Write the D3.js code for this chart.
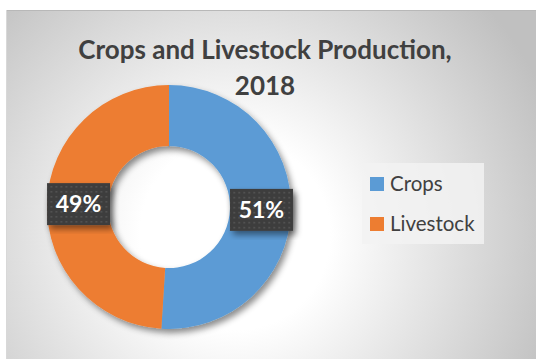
<!DOCTYPE html>
<html>
<head>
<meta charset="utf-8">
<script src="https://cdn.jsdelivr.net/npm/d3@7"></script>
<style>
  html, body { margin: 0; padding: 0; background: #fff; }
  svg { display: block; }
</style>
</head>
<body>
<div id="chart"></div>
<script>
// data
const categories = ["Crops", "Livestock"];
const shares = [51, 49];
const colors = ["#5B9BD5", "#ED7D31"];
const titleLines = ["Crops and Livestock Production,", "2018"];

const W = 536, H = 359;

const svg = d3.select("#chart")
  .append("svg")
  .attr("width", W)
  .attr("height", H);

const defs = svg.append("defs");

// background gradient of the chart area
const grad = defs.append("radialGradient")
  .attr("id", "bg")
  .attr("gradientUnits", "userSpaceOnUse")
  .attr("cx", 235).attr("cy", 235).attr("r", 340);
grad.append("stop").attr("offset", "0%").attr("stop-color", "#ffffff");
grad.append("stop").attr("offset", "28%").attr("stop-color", "#ffffff");
grad.append("stop").attr("offset", "100%").attr("stop-color", "#c0c0c0");

// shadows
const shadow = defs.append("filter").attr("id", "shadow")
  .attr("x", "-20%").attr("y", "-20%").attr("width", "140%").attr("height", "140%");
shadow.append("feDropShadow")
  .attr("dx", 3).attr("dy", 4).attr("stdDeviation", 3)
  .attr("flood-color", "#000").attr("flood-opacity", 0.45);

// dotted pattern for the data labels
const dots = defs.append("pattern").attr("id", "dots")
  .attr("patternUnits", "userSpaceOnUse")
  .attr("width", 5).attr("height", 5);
dots.append("rect").attr("width", 5).attr("height", 5).attr("fill", "#3d3d3d");
dots.append("rect").attr("x", 2).attr("y", 2).attr("width", 1.5).attr("height", 1.5).attr("fill", "#5a5a5a");

// chart area
svg.append("rect")
  .attr("x", 6).attr("y", 10)
  .attr("width", W - 6).attr("height", H - 10)
  .attr("fill", "url(#bg)");
svg.append("line")
  .attr("x1", 6).attr("x2", W).attr("y1", 10.5).attr("y2", 10.5)
  .attr("stroke", "#b8b8b8");
svg.append("line")
  .attr("x1", 6.5).attr("x2", 6.5).attr("y1", 10).attr("y2", H)
  .attr("stroke", "#d8d8d8");

// title
svg.append("text")
  .attr("x", 265)
  .attr("text-anchor", "middle")
  .attr("font-family", "Lato, 'Open Sans', sans-serif")
  .attr("font-weight", "bold")
  .attr("font-size", 26)
  .attr("fill", "#404040")
  .selectAll("tspan")
  .data(titleLines)
  .join("tspan")
  .attr("x", 265)
  .attr("y", (d, i) => 59 + i * 36)
  .text(d => d);

// donut
const cx = 169, cy = 207, rOuter = 122, rInner = 61;
const pie = d3.pie().sort(null).value(d => d);
const arcs = pie(shares);
const arc = d3.arc().innerRadius(rInner).outerRadius(rOuter);

const g = svg.append("g").attr("transform", `translate(${cx},${cy})`);

g.append("g")
  .attr("filter", "url(#shadow)")
  .selectAll("path")
  .data(arcs)
  .join("path")
  .attr("d", arc)
  .attr("fill", (d, i) => colors[i]);

// data labels
const labelArc = d3.arc()
  .innerRadius((rInner + rOuter) / 2)
  .outerRadius((rInner + rOuter) / 2);

const labels = g.selectAll("g.label")
  .data(arcs)
  .join("g")
  .attr("class", "label")
  .attr("transform", d => {
    const [x, y] = labelArc.centroid(d);
    return `translate(${x + 1},${y})`;
  });

labels.append("rect")
  .attr("x", -31.5).attr("y", -21)
  .attr("width", 63).attr("height", 42)
  .attr("fill", "url(#dots)")
  .attr("filter", "url(#shadow)");

labels.append("text")
  .attr("text-anchor", "middle")
  .attr("dy", 8)
  .attr("font-family", "Lato, 'Open Sans', sans-serif")
  .attr("font-weight", "bold")
  .attr("font-size", 23)
  .attr("fill", "#ffffff")
  .text(d => `${d.data}%`);

// legend
const legend = svg.append("g");
legend.append("rect")
  .attr("x", 362).attr("y", 163)
  .attr("width", 122).attr("height", 81)
  .attr("fill", "#f2f2f2")
  .attr("opacity", 0.85);

const items = legend.selectAll("g.item")
  .data(categories)
  .join("g")
  .attr("class", "item")
  .attr("transform", (d, i) => `translate(370,${177 + i * 40})`);

items.append("rect")
  .attr("width", 14).attr("height", 14)
  .attr("fill", (d, i) => colors[i]);

items.append("text")
  .attr("x", 20).attr("y", 13.5)
  .attr("font-family", "Lato, 'Open Sans', sans-serif")
  .attr("font-size", 20.5)
  .attr("fill", "#404040")
  .text(d => d);
</script>
</body>
</html>
